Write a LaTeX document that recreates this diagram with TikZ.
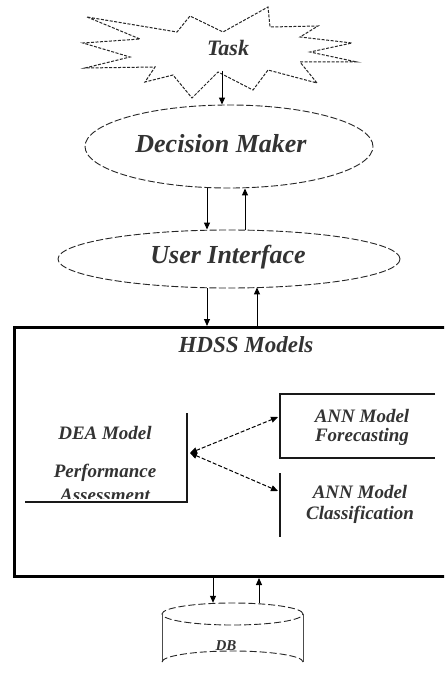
\documentclass[tikz,border=0pt]{standalone}
\usepackage{fontspec}
\setmainfont{Liberation Serif}
\usetikzlibrary{arrows.meta,calc,shapes.geometric}
\begin{document}
\begin{tikzpicture}[x=1pt,y=-1pt,
  txt/.style={inner sep=0pt, text=black!80, align=center},
  bigtxt/.style={txt, font=\fontsize{26}{29}\selectfont\bfseries\itshape},
  midtxt/.style={txt, font=\fontsize{23}{26}\selectfont\bfseries\itshape},
  smalltxt/.style={txt, font=\fontsize{19}{22}\selectfont\bfseries\itshape},
  tasktxt/.style={txt, font=\fontsize{22}{24}\selectfont\bfseries\itshape},
  tinytxt/.style={txt, font=\fontsize{15}{17}\selectfont\bfseries\itshape},
  dashell/.style={ellipse, draw=black!85, line width=0.9pt, dash pattern=on 7pt off 2.5pt, inner sep=0pt},
  starline/.style={draw=black!85, line width=1pt, dash pattern=on 3pt off 1.5pt, line join=miter},
  flow/.style={draw=black, line width=1pt, -{Triangle[length=7pt,width=6pt]}},
  link/.style={draw=black, line width=1pt, dash pattern=on 4pt off 2pt,
    {Triangle[length=7pt,width=6pt]}-{Triangle[length=7pt,width=6pt]}},
  frame/.style={draw=black, line width=3pt},
  edge/.style={draw=black!90, line width=1.3pt},
]
\useasboundingbox (0,0) rectangle (444,676);
\fill[white] (0,0) rectangle (444,676);
\clip (0,0) rectangle (444,676);

% --- Task burst -------------------------------------------------------
\draw[starline] (87,17) -- (140,39) -- (83,43) -- (130,57) -- (85,68)
  -- (155,67) -- (145,82) -- (173,75) -- (192,98) -- (218,72) -- (253,90)
  -- (268,70) -- (317,83) -- (300,62) -- (357,62) -- (310,52) -- (352,43)
  -- (300,37) -- (318,26) -- (270,27) -- (268,7) -- (223,32) -- (190,16)
  -- (177,32) -- cycle;
\node[tasktxt] (task) at (228,48) {Task};
\coordinate (taskfoot) at (222,71);

% --- Decision maker and user interface ---------------------------------
\node[dashell, minimum width=288pt, minimum height=83pt] (dm) at (229,146.5) {};
\node[bigtxt] (dmtext) at (221,144) {Decision Maker};
\node[dashell, minimum width=342pt, minimum height=58pt] (ui) at (229,259) {};
\node[bigtxt] (uitext) at (228,257) {User Interface};

% x positions of the vertical connectors
\coordinate (xa) at (207,0);
\coordinate (xb) at (245,0);
\coordinate (xc) at (257,0);
\coordinate (xd) at (213,0);
\coordinate (xe) at (259,0);

\draw[flow] (taskfoot) -- (taskfoot |- dm.north);
\draw[flow] (dm.south -| xa) -- (ui.north -| xa);
\draw[flow] (ui.north -| xb) -- (dm.south -| xb);

% --- HDSS models frame ---------------------------------------------------
\node[frame, rectangle, minimum width=460pt, minimum height=249pt, anchor=north west,
  inner sep=0pt] (hdss) at (13,326) {};
\node[midtxt] (hdsstext) at (246,345) {HDSS Models};

\draw[flow] (ui.south -| xa) -- (hdss.north -| xa);
\draw[flow] (hdss.north -| xc) -- ($(ui.south -| xc)+(0,-1)$);

% DEA model block (right and bottom edges)
\coordinate (deatop) at (187,413);
\coordinate (deacorner) at (187,502);
\coordinate (deaend) at (25,502);
\draw[edge] (deatop) -- (deacorner) -- (deaend);
\node[smalltxt] (dea1) at (105,433) {DEA Model};
\node[smalltxt] (dea2) at (105,473) {Performance};
\begin{scope}
  \clip (20,400) rectangle (186,498.5);
  \node[smalltxt] (dea3) at (105,495) {Assessment};
\end{scope}
\coordinate (deaport) at (190,453);

% ANN forecasting block
\coordinate (fc1) at (435,394);
\coordinate (fc2) at (280,394);
\coordinate (fc3) at (280,458);
\coordinate (fc4) at (435,458);
\draw[edge] (fc1) -- (fc2) -- (fc3) -- (fc4);
\node[smalltxt] (ann1) at (362,416) {ANN Model};
\node[smalltxt] (ann2) at (362,437) {Forecasting};
\coordinate (fcport) at (278,417);

% ANN classification block
\coordinate (cl1) at (280,473);
\coordinate (cl2) at (280,537);
\draw[edge] (cl1) -- (cl2);
\node[smalltxt] (ann3) at (360,492) {ANN Model};
\node[smalltxt] (ann4) at (360,515) {Classification};
\coordinate (clport) at (278,491);

\draw[link] (deaport) -- (fcport);
\draw[link] (deaport) -- (clport);

% --- Database cylinder ---------------------------------------------------
\node[minimum width=141pt, minimum height=70pt, inner sep=0pt] (db) at (232.5,638) {};
\draw[draw=black!85, line width=0.9pt, dash pattern=on 7pt off 3pt]
  (232.5,614) ellipse [x radius=70.5pt, y radius=11pt];
\draw[draw=black!70, line width=0.9pt] (162,614) -- (162,662);
\draw[draw=black!70, line width=0.9pt] (303,614) -- (303,662);
\draw[draw=black!85, line width=0.9pt, dash pattern=on 7pt off 3pt]
  (162,662) arc[start angle=180, end angle=360, x radius=70.5pt, y radius=-11pt];
\node[tinytxt] (dbtext) at (226,646) {DB};

\draw[flow] (hdss.south -| xd) -- (db.north -| xd);
\draw[flow] (db.north -| xe) -- (hdss.south -| xe);
\end{tikzpicture}
\end{document}
